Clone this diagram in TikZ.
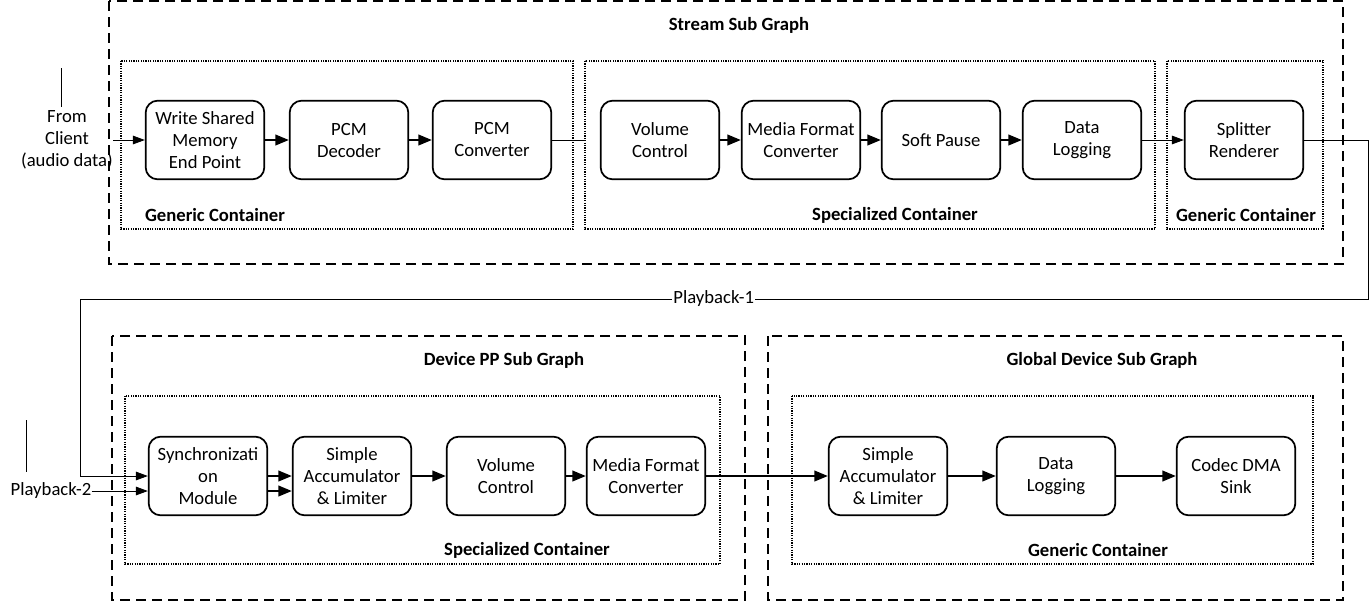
\documentclass[tikz,border=0pt]{standalone}
\usepackage{fontspec}
\setmainfont{Carlito}
\usetikzlibrary{arrows.meta,calc}
\tikzset{
  block/.style={draw, line width=1.3pt, rounded corners=9pt, minimum width=89pt,
    minimum height=59pt, align=center, font=\fontsize{14}{16.5}\selectfont},
  subgraph/.style={line width=0.9pt, dash pattern=on 7.5pt off 4.5pt},
  holder/.style={line width=0.9pt, dash pattern=on 0.9pt off 0.9pt},
  title/.style={font=\bfseries\fontsize{14}{16}\selectfont},
  arr/.style={line width=1.2pt, -{Triangle[length=10pt,width=8pt]}},
  thinarr/.style={line width=0.6pt, -{Triangle[length=9pt,width=6.5pt]}},
  plain/.style={font=\fontsize{14}{16.5}\selectfont, align=center}
}
\begin{document}
\begin{tikzpicture}[x=0.75pt,y=-0.75pt]
  \useasboundingbox (0,0) rectangle (1369,601);
  % Stream sub graph
  \draw[subgraph] (109,1) rectangle (1343,264);
  \node[title] (streamT) at (739,25) {Stream Sub Graph};
  \draw[holder] (121,61) rectangle (573,229);
  \node[title] (genA) at (215,215) {Generic Container};
  \draw[holder] (585,61) rectangle (1155,229);
  \node[title] (specA) at (895,215) {Specialized Container};
  \draw[holder] (1167,61) rectangle (1323,229);
  \node[title] (genB) at (1246,215) {Generic Container};
  % modules of the stream
  \node[block] (wsm) at (205,140) {Write Shared\\Memory\\End Point};
  \node[block] (pcmd) at (349,140) {PCM\\Decoder};
  \node[block] (pcmc) at (492,140) {PCM\\Converter};
  \node[block] (volA) at (660,140) {Volume\\Control};
  \node[block] (mfcA) at (801,140) {Media Format\\Converter};
  \node[block] (pause) at (941,140) {Soft Pause};
  \node[block] (logA) at (1082,140) {Data\\Logging};
  \node[block] (split) at (1244,140) {Splitter\\Renderer};
  % input from the client
  \node[plain, inner sep=0pt] (client) at (67,140) {From\\Client\\(audio data)};
  \draw (61,68) -- (61,107);
  \draw[thinarr] (client.east) -- (wsm.west);
  \draw[arr] (wsm) -- (pcmd);
  \draw[arr] (pcmd) -- (pcmc);
  \coordinate (specW) at (585,140);
  \draw[line width=0.6pt] (pcmc.east) -- (specW);
  \draw[arr] (volA) -- (mfcA);
  \draw[arr] (mfcA) -- (pause);
  \draw[arr] (pause) -- (logA);
  \draw[thinarr] (logA) -- (split);
  % Device PP sub graph
  \draw[subgraph] (112,336) rectangle (745,600);
  \node[title] (devT) at (504,360) {Device PP Sub Graph};
  \draw[holder] (125,396) rectangle (720,564);
  \node[title] (specB) at (527,550) {Specialized Container};
  % Global device sub graph
  \draw[subgraph] (768,336) rectangle (1343,600);
  \node[title] (globT) at (1102,360) {Global Device Sub Graph};
  \draw[holder] (792,396) rectangle (1313,564);
  \node[title] (genC) at (1098,550) {Generic Container};
  % modules of the device side
  \node[block] (sync) at (208,476) {Synchronizati\\on\\Module};
  \node[block] (salA) at (352,476) {Simple\\Accumulator\\\& Limiter};
  \node[block] (volB) at (506,476) {Volume\\Control};
  \node[block] (mfcB) at (646,476) {Media Format\\Converter};
  \node[block] (salB) at (888,476) {Simple\\Accumulator\\\& Limiter};
  \node[block] (logB) at (1056,476) {Data\\Logging};
  \node[block] (sink) at (1236,476) {Codec DMA\\Sink};
  % playback paths
  \coordinate (turnR) at (1368,299);
  \coordinate (turnL) at (80,299);
  \draw[thinarr] (split.east) -| (turnR)
    -- node[pos=0.508, fill=white, inner sep=1pt, plain] {Playback-1} (turnL)
    |- (sync.west);
  \node[plain, inner sep=0pt] (pb2) at (51,491) {Playback-2};
  \draw (26,420) -- (26,472);
  \draw[thinarr] (pb2.east) -- ($(sync.west)+(0,15)$);
  \draw[arr] (sync.east) -- (salA.west);
  \draw[arr] ($(sync.east)+(0,15)$) -- ($(salA.west)+(0,15)$);
  \draw[arr] (salA) -- (volB);
  \draw[arr] (volB) -- (mfcB);
  \draw[arr] (mfcB) -- (salB);
  \draw[arr] (salB) -- (logB);
  \draw[arr] (logB) -- (sink);
\end{tikzpicture}
\end{document}
